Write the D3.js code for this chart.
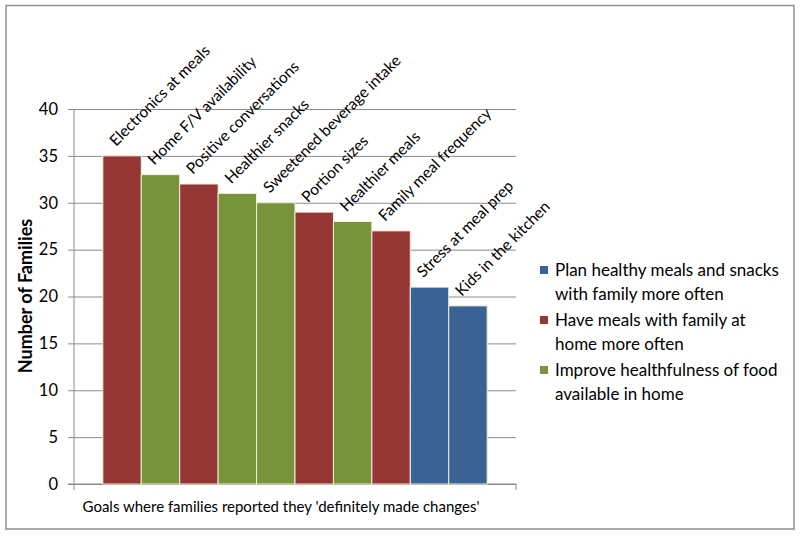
<!DOCTYPE html>
<html><head><meta charset="utf-8">
<script src="https://cdn.jsdelivr.net/npm/d3@7"></script>
<style>html,body{margin:0;padding:0;background:#fff}svg{display:block}text{font-family:Lato,"Open Sans",sans-serif;fill:#000}</style>
</head><body>
<script>
const categories = ["Electronics at meals","Home F/V availability","Positive conversations","Healthier snacks","Sweetened beverage intake","Portion sizes","Healthier meals","Family meal frequency","Stress at meal prep","Kids in the kitchen"];
const values = [35,33,32,31,30,29,28,27,21,19];
const groupOf = ["meals","food","meals","food","food","meals","food","meals","plan","plan"];
const seriesKeys = ["plan","meals","food"];
const seriesLabels = [["Plan healthy meals and snacks","with family more often"],["Have meals with family at","home more often"],["Improve healthfulness of food","available in home"]];
const seriesColors = ["#3A6294","#953735","#77933C"];
const yTicks = [0,5,10,15,20,25,30,35,40];
const yTitle = "Number of Families";
const xTitle = "Goals where families reported they 'definitely made changes'";

(function(){
const W=800,H=536;
const svg=d3.select("body").append("svg").attr("width",W).attr("height",H);
svg.append("rect").attr("x",6).attr("y",5.5).attr("width",788).attr("height",523.5).attr("fill","#fff").attr("stroke","#8f8f8f").attr("stroke-width",1.5);

const pl=74,pr=516,pt=109,pb=484;
const y=d3.scaleLinear().domain([0,40]).range([pb,pt]);
const x=d3.scaleBand().domain(categories).range([pl,pr]).paddingInner(0).paddingOuter(0.75);
const color=d3.scaleOrdinal().domain(seriesKeys).range(seriesColors);

const yAxis=d3.axisLeft(y).tickValues(yTicks).tickSize(6).tickPadding(10).tickFormat(d3.format("d"));
const gy=svg.append("g").attr("transform",`translate(${pl},0)`).call(yAxis);
gy.select(".domain").remove();
gy.selectAll(".tick line").attr("stroke","#8a8a8a");
gy.selectAll(".tick").append("line").attr("x1",0).attr("x2",pr-pl).attr("stroke","#8a8a8a").attr("stroke-width",1);
gy.selectAll(".tick text").attr("font-size",16.5).attr("font-family","Lato").attr("fill","#000");

svg.append("line").attr("x1",pl).attr("x2",pl).attr("y1",pt).attr("y2",pb+6).attr("stroke","#8a8a8a");
svg.append("line").attr("x1",pl-6).attr("x2",pr).attr("y1",pb).attr("y2",pb).attr("stroke","#8a8a8a");
svg.append("line").attr("x1",pr).attr("x2",pr).attr("y1",pb).attr("y2",pb+6).attr("stroke","#8a8a8a");

svg.append("g").selectAll("rect").data(categories).join("rect")
  .attr("x",d=>x(d)).attr("width",x.bandwidth())
  .attr("y",(d,i)=>y(values[i])).attr("height",(d,i)=>y(0)-y(values[i]))
  .attr("fill",(d,i)=>color(groupOf[i]))
  .attr("stroke","#f3efd6").attr("stroke-width",1);

svg.append("g").selectAll("text").data(categories).join("text")
  .attr("transform",(d,i)=>`translate(${x(d)+x.bandwidth()*0.34},${y(values[i])-9}) rotate(-45)`)
  .attr("font-size",15.5).text(d=>d);

svg.append("text").attr("transform",`translate(32,296) rotate(-90)`).attr("text-anchor","middle")
  .attr("font-size",18).attr("font-weight","bold").text(yTitle);
svg.append("text").attr("x",281).attr("y",512).attr("text-anchor","middle").attr("font-size",15).text(xTitle);

const lg=svg.append("g");
seriesKeys.forEach((k,i)=>{
  const cy=270+i*50;
  lg.append("rect").attr("x",540).attr("y",cy-4).attr("width",8).attr("height",8).attr("fill",color(k));
  seriesLabels[i].forEach((t,j)=>{
    lg.append("text").attr("x",555).attr("y",cy+6+j*24).attr("font-size",17).text(t);
  });
});
})();
</script>
</body></html>
